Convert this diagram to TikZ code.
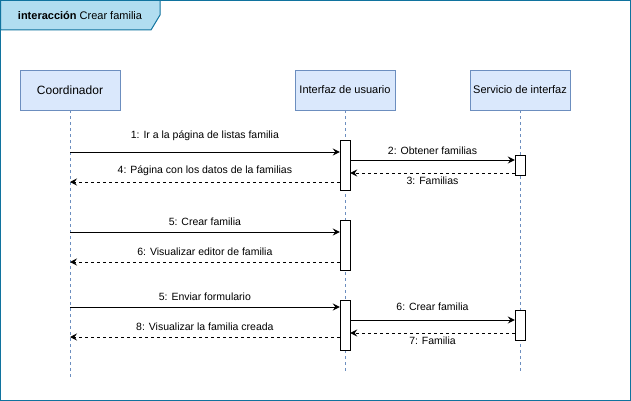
\documentclass[tikz,border=0pt]{standalone}
\usepackage{fontspec}
\setmainfont{Liberation Sans}
\usetikzlibrary{arrows.meta, positioning}
\definecolor{frameblue}{HTML}{10739E}
\definecolor{tabfill}{HTML}{B1DDF0}
\definecolor{headfill}{HTML}{DAE8FC}
\definecolor{headline}{HTML}{6C8EBF}

\begin{document}
\begin{tikzpicture}[
            x=1pt, y=-1pt,
            head/.style={rectangle, draw=headline, fill=headfill, minimum width=100pt, minimum height=40pt, text centered, font=\fontsize{11}{13}\selectfont},
            life/.style={draw=headline, line width=0.8pt, dash pattern=on 3pt off 3pt},
            act/.style={rectangle, draw=black, fill=white, minimum width=10pt, inner sep=0pt},
            msg/.style={-{Stealth[length=7pt, width=7pt, inset=2.5pt]}, line width=1pt},
            ret/.style={msg, dash pattern=on 3pt off 3pt},
            lbl/.style={font=\fontsize{10.5}{12}\selectfont, inner sep=0pt}
        ]
            \useasboundingbox (0,0) rectangle (631,401);
            \draw[frameblue, line width=1pt] (0.5,0.5) rectangle (630,400);
            \draw[frameblue, fill=tabfill, line width=1pt] (0.5,0.5) -- (160,0.5) -- (160,15) -- (151,30) -- (0.5,30) -- cycle;
            \node[font=\fontsize{11}{13}\selectfont] (title) at (80,16) {\textbf{interacción} Crear familia};

            \node[head, font=\fontsize{12}{14}\selectfont] (coord) at (70,90) {Coordinador};
            \node[head] (ui) at (345,90) {Interfaz de usuario};
            \node[head] (srv) at (520,90) {Servicio de interfaz};

            \coordinate (coordEnd) at (70,377);
            \coordinate (uiEnd) at (345,371);
            \coordinate (srvEnd) at (520,371);
            \draw[life] (coord) -- (coordEnd);
            \draw[life] (ui) -- (uiEnd);
            \draw[life] (srv) -- (srvEnd);

            \node[act, minimum height=50pt] (a1) at (345,165) {};
            \node[act, minimum height=20pt] (s1) at (520,165) {};
            \node[act, minimum height=50pt] (a2) at (345,245) {};
            \node[act, minimum height=50pt] (a3) at (345,325) {};
            \node[act, minimum height=30pt] (s2) at (520,325) {};

            \coordinate (y1) at (0,152);
            \coordinate (y2) at (0,160);
            \coordinate (y3) at (0,173);
            \coordinate (y4) at (0,182);
            \coordinate (y5) at (0,232);
            \coordinate (y6) at (0,262);
            \coordinate (y7) at (0,307);
            \coordinate (y8) at (0,320);
            \coordinate (y9) at (0,333);
            \coordinate (y10) at (0,337);

            \draw[msg] (coord |- y1) -- (a1.west |- y1) node[lbl, midway, yshift=16pt] {1: Ir a la página de listas familia};
            \draw[msg] (a1.east |- y2) -- (s1.west |- y2) node[lbl, midway, yshift=9pt] {2: Obtener familias};
            \draw[ret] (s1.west |- y3) -- (a1.east |- y3) node[lbl, midway, yshift=-8pt] {3: Familias};
            \draw[ret] (a1.west |- y4) -- (coord |- y4) node[lbl, midway, yshift=11pt] {4: Página con los datos de la familias};

            \draw[msg] (coord |- y5) -- (a2.west |- y5) node[lbl, midway, yshift=10pt] {5: Crear familia};
            \draw[ret] (a2.west |- y6) -- (coord |- y6) node[lbl, midway, yshift=10pt] {6: Visualizar editor de familia};

            \draw[msg] (coord |- y7) -- (a3.west |- y7) node[lbl, midway, yshift=10pt] {5: Enviar formulario};
            \draw[msg] (a3.east |- y8) -- (s2.west |- y8) node[lbl, midway, yshift=13pt] {6: Crear familia};
            \draw[ret] (s2.west |- y9) -- (a3.east |- y9) node[lbl, midway, yshift=-8pt] {7: Familia};
            \draw[ret] (a3.west |- y10) -- (coord |- y10) node[lbl, midway, yshift=10pt] {8: Visualizar la familia creada};
        \end{tikzpicture}
\end{document}
